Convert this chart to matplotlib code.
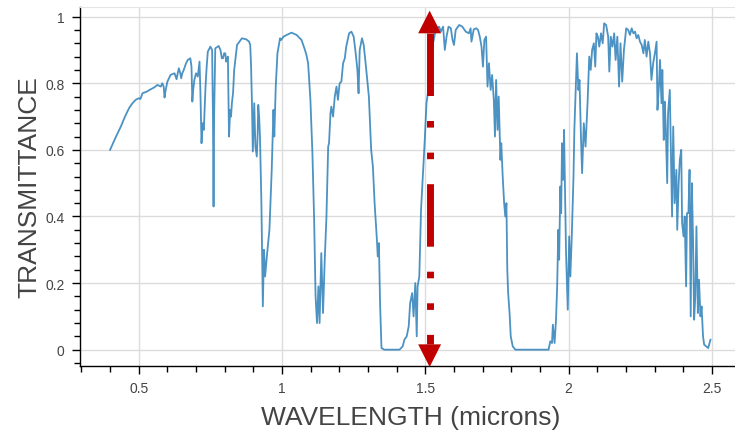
import numpy as np
import matplotlib.pyplot as plt
from matplotlib.ticker import MultipleLocator, FuncFormatter

plt.rcParams['font.family'] = ['Liberation Sans', 'DejaVu Sans']

# ==== SPECTRUM (wavelength in microns, transmittance 0-1) ====
wavelength = [
    0.400, 0.418, 0.4375, 0.452, 0.466, 0.478, 0.489, 0.500, 0.506, 0.513,
    0.528, 0.542, 0.555, 0.565, 0.577, 0.582, 0.587, 0.590, 0.594, 0.600,
    0.611, 0.625, 0.632, 0.636, 0.640, 0.645, 0.648, 0.652, 0.657, 0.665,
    0.671, 0.680, 0.684, 0.687, 0.690, 0.694, 0.700, 0.706, 0.712, 0.715,
    0.719, 0.723, 0.727, 0.733, 0.737, 0.741, 0.750, 0.756, 0.759, 0.761,
    0.763, 0.767, 0.779, 0.785, 0.787, 0.790, 0.794, 0.798, 0.802, 0.805,
    0.808, 0.811, 0.815, 0.819, 0.822, 0.825, 0.829, 0.833, 0.843, 0.860,
    0.875, 0.885, 0.889, 0.892, 0.895, 0.898, 0.900, 0.903, 0.907, 0.912,
    0.915, 0.917, 0.920, 0.923, 0.928, 0.933, 0.937, 0.941, 0.947, 0.956,
    0.964, 0.970, 0.973, 0.978, 0.984, 0.993, 0.997, 1.005, 1.016, 1.033,
    1.051, 1.068, 1.080, 1.085, 1.091, 1.099, 1.106, 1.112, 1.117, 1.122,
    1.127, 1.131, 1.137, 1.143, 1.149, 1.155, 1.161, 1.164, 1.169, 1.172,
    1.178, 1.184, 1.190, 1.195, 1.201, 1.207, 1.213, 1.219, 1.224, 1.234,
    1.242, 1.250, 1.257, 1.263, 1.267, 1.271, 1.279, 1.285, 1.294, 1.303,
    1.311, 1.317, 1.323, 1.331, 1.334, 1.338, 1.342, 1.347, 1.357, 1.410,
    1.421, 1.427, 1.435, 1.442, 1.447, 1.454, 1.459, 1.465, 1.470, 1.473,
    1.479, 1.485, 1.493, 1.498, 1.504, 1.514, 1.525, 1.537, 1.548, 1.554,
    1.562, 1.568, 1.574, 1.581, 1.589, 1.595, 1.600, 1.606, 1.618, 1.629,
    1.641, 1.652, 1.658, 1.661, 1.669, 1.678, 1.684, 1.690, 1.696, 1.701,
    1.706, 1.712, 1.717, 1.722, 1.728, 1.733, 1.739, 1.743, 1.747, 1.752,
    1.756, 1.762, 1.765, 1.770, 1.775, 1.779, 1.783, 1.786, 1.789, 1.794,
    1.798, 1.805, 1.814, 1.930, 1.936, 1.942, 1.945, 1.951, 1.956, 1.960,
    1.964, 1.967, 1.971, 1.974, 1.977, 1.981, 1.984, 1.988, 1.991, 1.997,
    2.002, 2.006, 2.011, 2.017, 2.020, 2.025, 2.029, 2.034, 2.038, 2.043,
    2.047, 2.053, 2.059, 2.066, 2.072, 2.077, 2.082, 2.088, 2.093, 2.097,
    2.102, 2.107, 2.113, 2.119, 2.124, 2.131, 2.138, 2.142, 2.147, 2.153,
    2.159, 2.164, 2.170, 2.176, 2.181, 2.187, 2.193, 2.201, 2.208, 2.214,
    2.220, 2.226, 2.232, 2.237, 2.243, 2.249, 2.255, 2.261, 2.266, 2.272,
    2.278, 2.284, 2.289, 2.295, 2.301, 2.307, 2.310, 2.315, 2.319, 2.324,
    2.327, 2.332, 2.335, 2.339, 2.344, 2.347, 2.353, 2.356, 2.361, 2.365,
    2.370, 2.376, 2.379, 2.384, 2.388, 2.393, 2.396, 2.401, 2.405, 2.410,
    2.413, 2.418, 2.422, 2.426, 2.430, 2.434, 2.438, 2.442, 2.446, 2.451,
    2.455, 2.460, 2.464, 2.469, 2.473, 2.480, 2.487, 2.495,
]
transmittance = [
    0.600, 0.635, 0.670, 0.700, 0.725, 0.740, 0.750, 0.755, 0.753, 0.770,
    0.775, 0.782, 0.788, 0.795, 0.790, 0.800, 0.790, 0.757, 0.780, 0.805,
    0.825, 0.830, 0.812, 0.830, 0.845, 0.830, 0.815, 0.830, 0.840, 0.860,
    0.870, 0.875, 0.850, 0.745, 0.780, 0.810, 0.830, 0.820, 0.865, 0.780,
    0.620, 0.680, 0.660, 0.790, 0.850, 0.895, 0.910, 0.900, 0.700, 0.430,
    0.700, 0.905, 0.912, 0.900, 0.890, 0.875, 0.875, 0.890, 0.890, 0.865,
    0.870, 0.880, 0.640, 0.720, 0.700, 0.740, 0.770, 0.840, 0.915, 0.935,
    0.932, 0.925, 0.915, 0.850, 0.740, 0.595, 0.650, 0.740, 0.610, 0.580,
    0.650, 0.735, 0.700, 0.640, 0.440, 0.130, 0.300, 0.220, 0.280, 0.360,
    0.540, 0.720, 0.640, 0.790, 0.890, 0.935, 0.930, 0.940, 0.945, 0.952,
    0.945, 0.930, 0.900, 0.885, 0.860, 0.750, 0.590, 0.390, 0.160, 0.080,
    0.190, 0.080, 0.290, 0.110, 0.270, 0.400, 0.610, 0.620, 0.710, 0.730,
    0.700, 0.760, 0.790, 0.750, 0.800, 0.805, 0.860, 0.875, 0.910, 0.950,
    0.955, 0.940, 0.890, 0.840, 0.770, 0.900, 0.935, 0.915, 0.840, 0.760,
    0.600, 0.550, 0.440, 0.330, 0.280, 0.320, 0.140, 0.005, 0.000, 0.000,
    0.010, 0.030, 0.040, 0.070, 0.140, 0.170, 0.100, 0.200, 0.040, 0.190,
    0.220, 0.420, 0.550, 0.630, 0.740, 0.800, 0.910, 0.965, 0.970, 0.955,
    0.970, 0.900, 0.940, 0.970, 0.965, 0.930, 0.915, 0.960, 0.975, 0.970,
    0.955, 0.950, 0.965, 0.925, 0.962, 0.965, 0.960, 0.940, 0.910, 0.850,
    0.930, 0.940, 0.790, 0.860, 0.780, 0.825, 0.750, 0.640, 0.810, 0.660,
    0.760, 0.570, 0.620, 0.520, 0.440, 0.400, 0.440, 0.240, 0.170, 0.110,
    0.040, 0.010, 0.000, 0.000, 0.025, 0.020, 0.075, 0.020, 0.090, 0.190,
    0.360, 0.270, 0.490, 0.410, 0.620, 0.510, 0.660, 0.440, 0.290, 0.120,
    0.340, 0.220, 0.340, 0.520, 0.660, 0.790, 0.890, 0.780, 0.810, 0.640,
    0.530, 0.680, 0.610, 0.740, 0.880, 0.840, 0.900, 0.920, 0.850, 0.950,
    0.940, 0.910, 0.950, 0.920, 0.980, 0.975, 0.940, 0.835, 0.940, 0.910,
    0.950, 0.870, 0.940, 0.790, 0.920, 0.805, 0.900, 0.965, 0.960, 0.945,
    0.965, 0.950, 0.955, 0.935, 0.945, 0.925, 0.915, 0.890, 0.930, 0.880,
    0.925, 0.890, 0.810, 0.860, 0.890, 0.925, 0.720, 0.790, 0.870, 0.740,
    0.840, 0.630, 0.745, 0.670, 0.500, 0.710, 0.780, 0.640, 0.400, 0.670,
    0.440, 0.540, 0.360, 0.500, 0.570, 0.600, 0.380, 0.340, 0.400, 0.190,
    0.410, 0.410, 0.540, 0.100, 0.500, 0.340, 0.090, 0.160, 0.370, 0.110,
    0.210, 0.100, 0.130, 0.040, 0.015, 0.010, 0.005, 0.030,
]

# marker arrow (data units)
arrow_x = 1.515
arrow_bottom = -0.052
arrow_top = 1.018

# ==== FIGURE ====
# plot frame runs slightly past the right edge of the canvas
fig = plt.figure(figsize=(7.35, 4.35), dpi=100, facecolor='white')
ax = fig.add_axes([80 / 735, 68 / 435, 662 / 735, 359 / 435])

ax.plot(wavelength, transmittance, color='#1f77b4', lw=1.3, alpha=0.8, zorder=3)

# dash-dot-dot double arrow (dash lengths are in multiples of the line width)
head_len = 0.068
head_half = 0.04
red = '#c00000'
ln, = ax.plot([arrow_x, arrow_x], [arrow_top - head_len, arrow_bottom + head_len],
              color=red, lw=5, zorder=4)
ln.set_dashes([9.0, 3.6, 0.95, 3.6, 0.95, 3.6])
ln.set_dash_capstyle('butt')
ax.fill([arrow_x - head_half, arrow_x + head_half, arrow_x],
        [arrow_top - head_len, arrow_top - head_len, arrow_top],
        color=red, lw=0, zorder=4)
ax.fill([arrow_x - head_half, arrow_x + head_half, arrow_x],
        [arrow_bottom + head_len, arrow_bottom + head_len, arrow_bottom],
        color=red, lw=0, zorder=4, clip_on=False)

# ==== AXES ====
ax.set_xlim(0.295, 2.605)
ax.set_ylim(-0.049, 1.029)

ax.xaxis.set_major_locator(MultipleLocator(0.5))
ax.xaxis.set_minor_locator(MultipleLocator(0.1))
ax.yaxis.set_major_locator(MultipleLocator(0.2))
ax.yaxis.set_minor_locator(MultipleLocator(0.04))
fmt = FuncFormatter(lambda v, p: '{:g}'.format(round(v, 2)))
ax.xaxis.set_major_formatter(fmt)
ax.yaxis.set_major_formatter(fmt)

ax.grid(True, which='major', color='#dcdcdc', lw=1, zorder=0)
ax.set_axisbelow(True)

for side in ['top', 'right']:
    ax.spines[side].set_color('#e5e5e5')
for side in ['left', 'bottom']:
    ax.spines[side].set_color('black')
    ax.spines[side].set_linewidth(1)

ax.tick_params(which='major', direction='out', length=6, width=1, color='black',
               labelsize=10, labelcolor='#444444', pad=5)
ax.tick_params(which='minor', direction='out', length=4, width=1, color='black')

ax.set_xlabel('WAVELENGTH (microns)', fontsize=19, color='#444444', labelpad=7)
ax.set_ylabel('TRANSMITTANCE', fontsize=19, color='#444444', labelpad=3)

fig.savefig('out.png', dpi=100, facecolor='white')
